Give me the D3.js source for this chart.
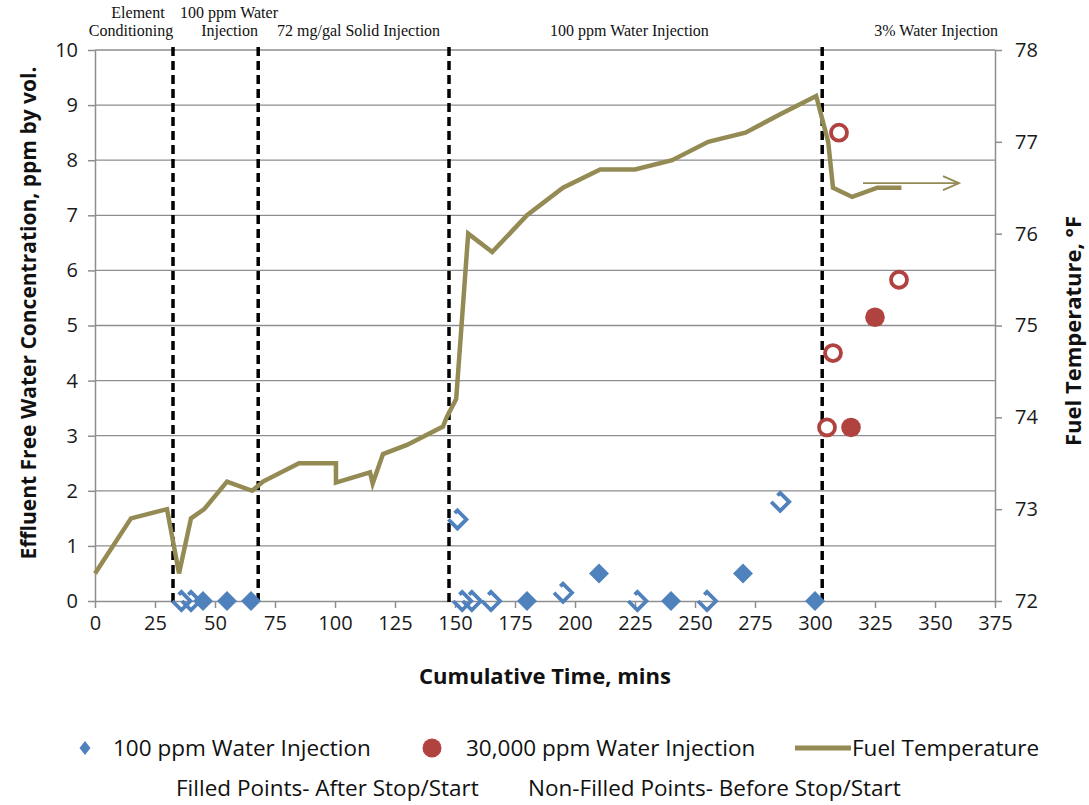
<!DOCTYPE html>
<html><head><meta charset="utf-8">
<script src="https://cdn.jsdelivr.net/npm/d3@7"></script>
<style>body{margin:0;background:#fff}svg{display:block}</style>
</head><body>
<svg id="c" width="1089" height="805"></svg>
<script>
// ---- data ----
const tempTime = [0,15,30,35,40,45.5,55,65.5,70,85,100.4,100.4,114.6,115.7,120,130,145,146.5,150.5,155.5,165.5,180,195,210.5,225,240.5,255.5,271,285.5,300.5,305.5,307.5,315.5,326,336];
const tempVal  = [72.3,72.9,73.0,72.3,72.9,73.0,73.3,73.2,73.3,73.5,73.5,73.29,73.4,73.28,73.6,73.7,73.9,74.0,74.2,76.0,75.8,76.2,76.5,76.7,76.7,76.8,77.0,77.1,77.3,77.5,77.0,76.5,76.4,76.5,76.5];
const blueFilledTime = [45,55,65,180,210,240,270,300];
const blueFilledVal  = [0,0,0,0,0.5,0,0.5,0];
const blueOpenTime = [36,40,151,153,157,165,195,226,255,285.5];
const blueOpenVal  = [0,0,1.48,0,0,0,0.15,0,0,1.8];
const redFilledTime = [315,325];
const redFilledVal  = [3.15,5.15];
const redOpenTime = [305,307.5,310,335];
const redOpenVal  = [3.15,4.5,8.5,5.83];
const phaseTimes = [32.5,68,147.5,303];
const xTicks = [0,25,50,75,100,125,150,175,200,225,250,275,300,325,350,375];
const yTicks = [0,1,2,3,4,5,6,7,8,9,10];
const y2Ticks = [72,73,74,75,76,77,78];
const arrowTime = [320,360];
const arrowTemp = 76.55;
const legendLabels = ["100 ppm Water Injection","30,000 ppm Water Injection","Fuel Temperature"];
const noteLabels = ["Filled Points- After Stop/Start","Non-Filled Points- Before Stop/Start"];
const phaseLabels = [
  ["Element","Conditioning"],
  ["100 ppm Water","Injection"],
  ["72 mg/gal Solid Injection"],
  ["100 ppm Water Injection"],
  ["3% Water Injection"]
];

// ---- layout ----
const L=95, R=995, T=50, B=601;
const BLUE="#4F81BD", RED="#B0423F", OLIVE="#948A54", GRID="#8E8E8E";
const FONT="'Open Sans', Lato, sans-serif";
const svg=d3.select("#c");
const x=d3.scaleLinear().domain([0,375]).range([L,R]);
const y=d3.scaleLinear().domain([0,10]).range([B,T]);
const y2=d3.scaleLinear().domain([72,78]).range([B,T]);

// gridlines
svg.append("g").selectAll("line").data(yTicks.slice(1)).join("line")
  .attr("x1",L).attr("x2",R).attr("y1",d=>y(d)).attr("y2",d=>y(d))
  .attr("stroke",GRID).attr("stroke-width",1.3);

// axes
const axL=svg.append("g").attr("transform",`translate(${L},0)`)
  .call(d3.axisLeft(y).tickValues(yTicks).tickFormat(d3.format("d")).tickSize(7).tickPadding(10).tickSizeOuter(0));
const axB=svg.append("g").attr("transform",`translate(0,${B})`)
  .call(d3.axisBottom(x).tickValues(xTicks).tickFormat(d3.format("d")).tickSize(7).tickPadding(8).tickSizeOuter(0));
const axR=svg.append("g").attr("transform",`translate(${R},0)`)
  .call(d3.axisRight(y2).tickValues(y2Ticks).tickFormat(d3.format("d")).tickSize(7).tickPadding(13).tickSizeOuter(0));
[axL,axB,axR].forEach(a=>{
  a.selectAll("path,line").attr("stroke",GRID).attr("stroke-width",1.5);
  a.selectAll("text").attr("font-family",FONT).attr("font-size",20).attr("fill","#1a1a1a");
});

// phase dashed lines
svg.append("g").selectAll("line").data(phaseTimes).join("line")
  .attr("x1",d=>x(d)).attr("x2",d=>x(d)).attr("y1",T-3).attr("y2",B+6)
  .attr("stroke","#000").attr("stroke-width",3.5).attr("stroke-dasharray","9,5");

// temperature line
svg.append("path").datum(tempTime.map((t,i)=>[t,tempVal[i]]))
  .attr("d",d3.line().x(d=>x(d[0])).y(d=>y2(d[1])))
  .attr("fill","none").attr("stroke",OLIVE).attr("stroke-width",4.5).attr("stroke-linejoin","miter");

// arrow annotation
svg.append("defs").append("marker").attr("id","ah").attr("viewBox","0 0 20 20")
  .attr("refX",18).attr("refY",10).attr("markerWidth",20).attr("markerHeight",20)
  .attr("markerUnits","userSpaceOnUse").attr("orient","auto")
  .append("path").attr("d","M2,3 L18,10 L2,17").attr("fill","none").attr("stroke",OLIVE).attr("stroke-width",1.8);
svg.append("line").attr("x1",x(arrowTime[0])).attr("x2",x(arrowTime[1]))
  .attr("y1",y2(arrowTemp)).attr("y2",y2(arrowTemp))
  .attr("stroke",OLIVE).attr("stroke-width",1.8).attr("marker-end","url(#ah)");

// markers
const h=9, hf=10;
const diamond=`M0,${-hf}L${hf},0L0,${hf}L${-hf},0Z`;
const openDiamond=`M${-h*0.3},${-h*0.7}L0,${-h}L${h},0L0,${h}L${-h},0`;
svg.append("g").selectAll("path").data(blueOpenTime.map((t,i)=>[t,blueOpenVal[i]])).join("path")
  .attr("transform",d=>`translate(${x(d[0])},${y(d[1])})`).attr("d",openDiamond)
  .attr("fill","none").attr("stroke",BLUE).attr("stroke-width",3.8).attr("stroke-linejoin","miter");
svg.append("g").selectAll("path").data(blueFilledTime.map((t,i)=>[t,blueFilledVal[i]])).join("path")
  .attr("transform",d=>`translate(${x(d[0])},${y(d[1])})`).attr("d",diamond).attr("fill",BLUE);
svg.append("g").selectAll("circle").data(redOpenTime.map((t,i)=>[t,redOpenVal[i]])).join("circle")
  .attr("cx",d=>x(d[0])).attr("cy",d=>y(d[1])).attr("r",8)
  .attr("fill","#fff").attr("stroke",RED).attr("stroke-width",3.8);
svg.append("g").selectAll("circle").data(redFilledTime.map((t,i)=>[t,redFilledVal[i]])).join("circle")
  .attr("cx",d=>x(d[0])).attr("cy",d=>y(d[1])).attr("r",9.8).attr("fill",RED);

// phase labels
const pl=svg.append("g").attr("font-family","'Liberation Serif', 'Times New Roman', serif").attr("font-size",16).attr("fill","#111");
pl.append("text").attr("x",138).attr("y",18).attr("text-anchor","middle").text(phaseLabels[0][0]);
pl.append("text").attr("x",131).attr("y",36).attr("text-anchor","middle").text(phaseLabels[0][1]);
pl.append("text").attr("x",180).attr("y",18).attr("text-anchor","start").text(phaseLabels[1][0]);
pl.append("text").attr("x",258).attr("y",36).attr("text-anchor","end").text(phaseLabels[1][1]);
pl.append("text").attr("x",277).attr("y",36).attr("text-anchor","start").text(phaseLabels[2][0]);
pl.append("text").attr("x",550).attr("y",36).attr("text-anchor","start").text(phaseLabels[3][0]);
pl.append("text").attr("x",998).attr("y",36).attr("text-anchor","end").text(phaseLabels[4][0]);

// axis titles
svg.append("text").attr("x",545).attr("y",684).attr("text-anchor","middle")
  .attr("font-family",FONT).attr("font-weight","bold").attr("font-size",22).attr("fill","#111")
  .text("Cumulative Time, mins");
svg.append("text").attr("transform","translate(36,313) rotate(-90)").attr("text-anchor","middle")
  .attr("font-family",FONT).attr("font-weight","bold").attr("font-size",21).attr("fill","#111")
  .text("Effluent Free Water Concentration, ppm by vol.");
svg.append("text").attr("transform","translate(1081,331) rotate(-90)").attr("text-anchor","middle")
  .attr("font-family",FONT).attr("font-weight","bold").attr("font-size",22).attr("fill","#111")
  .text("Fuel Temperature, °F");

// legend
const lg=svg.append("g").attr("font-family",FONT).attr("font-size",22.5).attr("fill","#111");
lg.append("path").attr("transform","translate(85,748)").attr("d","M0,-7L5.5,0L0,7L-5.5,0Z").attr("fill",BLUE);
lg.append("text").attr("x",113).attr("y",756).text(legendLabels[0]);
lg.append("circle").attr("cx",432).attr("cy",748).attr("r",9.5).attr("fill",RED);
lg.append("text").attr("x",466).attr("y",756).text(legendLabels[1]);
lg.append("line").attr("x1",795).attr("x2",851).attr("y1",748).attr("y2",748).attr("stroke",OLIVE).attr("stroke-width",5);
lg.append("text").attr("x",852).attr("y",756).text(legendLabels[2]);
lg.append("text").attr("x",176).attr("y",796).text(noteLabels[0]);
lg.append("text").attr("x",528).attr("y",796).text(noteLabels[1]);
</script>
</body></html>
